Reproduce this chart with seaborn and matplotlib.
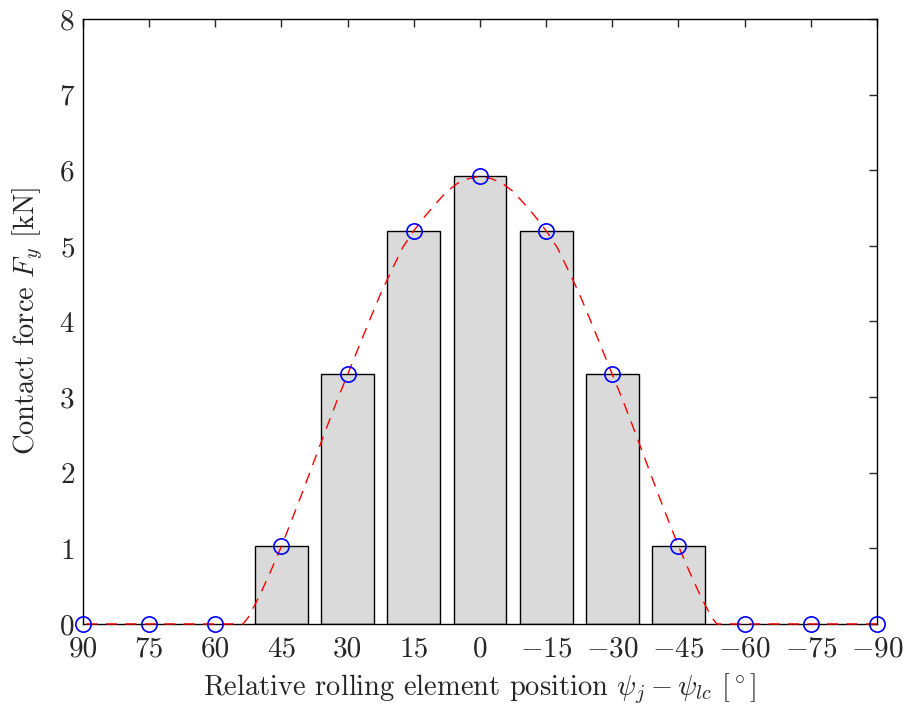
import matplotlib
matplotlib.use("Agg")
import matplotlib.pyplot as plt
import seaborn as sns
import pandas as pd
import numpy as np

# Rolling element positions and contact forces
positions = [90, 75, 60, 45, 30, 15, 0, -15, -30, -45, -60, -75, -90]
forces = [0, 0, 0, 1.03, 3.30, 5.20, 5.92, 5.20, 3.30, 1.03, 0, 0, 0]

# Analytical load-distribution curve (one half, symmetric)
curve_half_deg = [0, 2.5, 5, 7.5, 10, 12.5, 15, 17.5, 20, 22.5, 25, 27.5, 30,
                  32.5, 35, 37.5, 40, 42.5, 45, 47.5, 50, 52.5, 53.7,
                  60, 70, 80, 90]
curve_half_val = [5.92, 5.89, 5.83, 5.72, 5.56, 5.39, 5.20, 4.98, 4.68, 4.37,
                  4.02, 3.66, 3.30, 2.94, 2.56, 2.17, 1.78, 1.40, 1.03, 0.69,
                  0.37, 0.09, 0.0, 0.0, 0.0, 0.0, 0.0]

xticks = [90, 75, 60, 45, 30, 15, 0, -15, -30, -45, -60, -75, -90]
yticks = [0, 1, 2, 3, 4, 5, 6, 7, 8]

sns.set_style("white")
plt.rcParams["font.family"] = ["serif"]
plt.rcParams["font.serif"] = ["cmr10", "DejaVu Serif"]
plt.rcParams["mathtext.fontset"] = "cm"
plt.rcParams["axes.formatter.use_mathtext"] = True
plt.rcParams["axes.unicode_minus"] = True

df_bars = pd.DataFrame({"pos": positions, "F": forces})
df_bars = df_bars[df_bars["F"] > 0]

curve_deg = [-d for d in curve_half_deg[::-1]] + curve_half_deg[1:]
curve_val = curve_half_val[::-1] + curve_half_val[1:]
df_curve = pd.DataFrame({"deg": curve_deg, "F": curve_val})
df_pts = pd.DataFrame({"pos": positions, "F": forces})

fig, ax = plt.subplots(figsize=(9.05, 7.11), dpi=100)
fig.subplots_adjust(left=0.0917, right=0.969, top=0.9733, bottom=0.1224)

sns.barplot(data=df_bars, x="pos", y="F", native_scale=True, width=0.8,
            color="#dadada", edgecolor="black", linewidth=1.0,
            saturation=1, ax=ax, errorbar=None)
for p in ax.patches:
    p.set_facecolor("#dadada")

sns.lineplot(data=df_curve, x="deg", y="F", color="red", linewidth=1.0,
             ax=ax, sort=False)
ln = ax.lines[-1]
ln.set_dashes((8, 6))
ln.set_zorder(4)
ln.set_clip_on(False)

ax.plot(df_pts["pos"], df_pts["F"], linestyle="none", marker="o",
        markersize=11, markerfacecolor="none", markeredgecolor="blue",
        markeredgewidth=1.2, clip_on=False, zorder=5)

ax.set_xlim(90, -90)
ax.set_ylim(0, 8)
ax.set_xticks(xticks)
ax.set_xticklabels([("$-$" + str(-t)) if t < 0 else str(t) for t in xticks])
ax.set_yticks(yticks)
ax.tick_params(direction="in", length=6, width=1, top=True, right=True,
               labelsize=21)
ax.tick_params(axis="x", pad=9)
ax.tick_params(axis="y", pad=6)
for s in ax.spines.values():
    s.set_linewidth(1.0)
    s.set_color("black")

ax.set_xlabel(r"Relative rolling element position $\psi_j - \psi_{lc}$ $[^\circ]$",
              fontsize=20.5, labelpad=6)
ax.set_ylabel(r"Contact force $F_y$ [kN]", fontsize=20.5, labelpad=10)

fig.savefig("out.png", dpi=100)
